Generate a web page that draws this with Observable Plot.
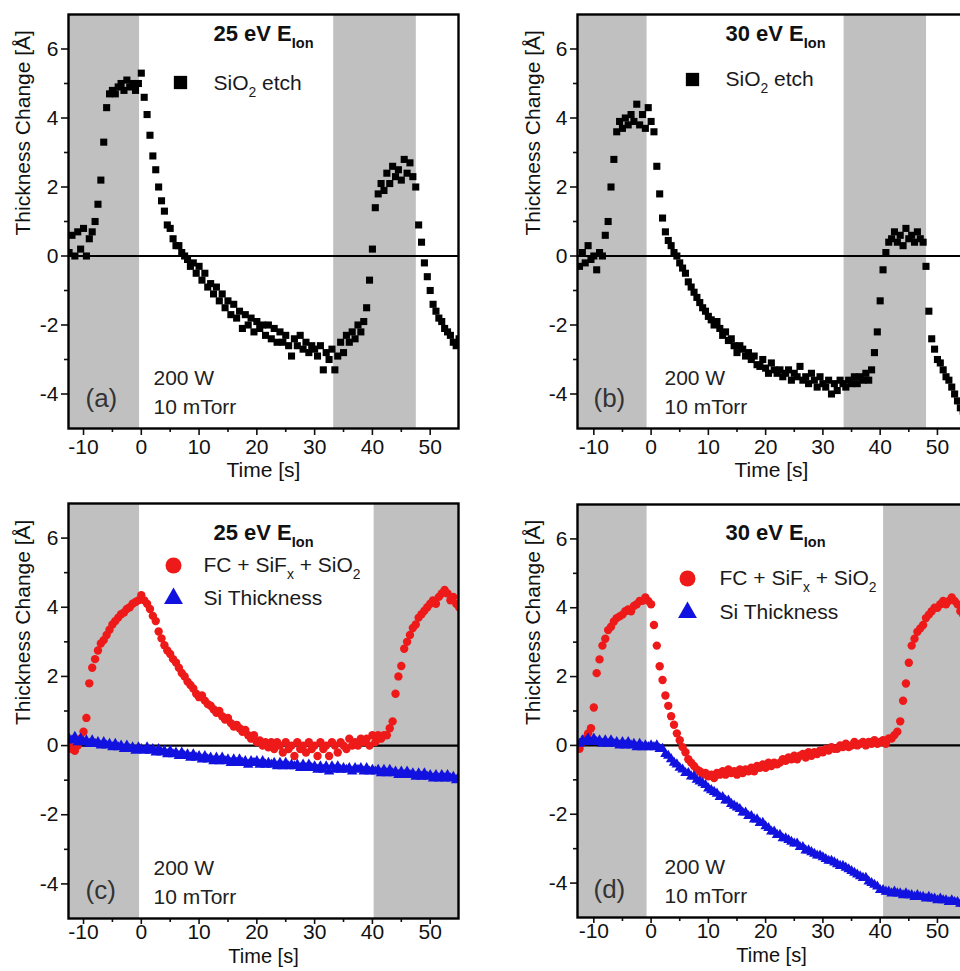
<!DOCTYPE html>
<html><head><meta charset="utf-8">
<script src="https://cdn.jsdelivr.net/npm/d3@7"></script>
<script src="https://cdn.jsdelivr.net/npm/@observablehq/plot@0.6"></script>
<style>
body{margin:0;background:#fff}
#wrap{position:relative;width:960px;height:971px;overflow:hidden;background:#fff}
#wrap svg{position:absolute;overflow:visible;max-width:none}
</style></head><body><div id="wrap"></div>
<script>
// time axis (s), sampled every 0.5 s; rows of 10 values
const time = [
 -12.5,-12,-11.5,-11,-10.5,-10,-9.5,-9,-8.5,-8,
 -7.5,-7,-6.5,-6,-5.5,-5,-4.5,-4,-3.5,-3,
 -2.5,-2,-1.5,-1,-0.5,0,0.5,1,1.5,2,
 2.5,3,3.5,4,4.5,5,5.5,6,6.5,7,
 7.5,8,8.5,9,9.5,10,10.5,11,11.5,12,
 12.5,13,13.5,14,14.5,15,15.5,16,16.5,17,
 17.5,18,18.5,19,19.5,20,20.5,21,21.5,22,
 22.5,23,23.5,24,24.5,25,25.5,26,26.5,27,
 27.5,28,28.5,29,29.5,30,30.5,31,31.5,32,
 32.5,33,33.5,34,34.5,35,35.5,36,36.5,37,
 37.5,38,38.5,39,39.5,40,40.5,41,41.5,42,
 42.5,43,43.5,44,44.5,45,45.5,46,46.5,47,
 47.5,48,48.5,49,49.5,50,50.5,51,51.5,52,
 52.5,53,53.5,54,54.5,55
];
// (a) SiO2 etch, 25 eV
const sio2_25 = [
 0.1,0.6,0.0,0.7,0.2,0.8,0.0,0.5,0.7,1.0,
 1.5,2.2,3.3,4.3,4.7,4.8,4.7,4.9,5.0,4.8,
 5.1,4.9,5.0,4.8,5.0,5.3,4.6,4.1,3.5,2.9,
 2.5,2.0,1.6,1.3,0.9,0.8,0.5,0.3,0.3,0.1,
 0.0,-0.1,-0.3,-0.2,-0.5,-0.3,-0.7,-0.5,-0.9,-0.8,
 -1.1,-0.9,-1.3,-1.1,-1.5,-1.3,-1.7,-1.4,-1.8,-1.6,
 -2.1,-1.7,-2.0,-1.8,-2.2,-1.9,-2.1,-2.0,-2.3,-2.0,
 -2.4,-2.1,-2.5,-2.2,-2.5,-2.3,-2.6,-2.9,-2.4,-2.6,
 -2.3,-2.7,-2.5,-2.8,-2.6,-2.7,-2.9,-2.6,-3.3,-2.8,
 -3.0,-2.7,-3.3,-2.9,-2.5,-2.8,-2.3,-2.5,-2.2,-2.4,
 -2.0,-2.2,-1.9,-1.5,-0.7,0.2,1.4,1.8,2.1,1.9,
 2.4,2.1,2.6,2.3,2.5,2.2,2.8,2.4,2.7,2.3,
 2.0,0.9,0.4,-0.2,-0.6,-1.0,-1.4,-1.6,-1.8,-1.9,
 -2.1,-2.2,-2.3,-2.5,-2.6,-2.4
];
// (b) SiO2 etch, 30 eV
const sio2_30 = [
 -0.3,0.1,-0.2,0.3,-0.1,0.0,-0.4,0.1,0.0,0.6,
 1.0,2.0,2.8,3.6,3.9,3.7,4.0,3.8,4.1,3.9,
 4.4,3.8,4.1,3.7,4.3,3.9,3.6,2.6,1.8,1.1,
 0.7,0.45,0.3,0.1,0.0,-0.2,-0.35,-0.5,-0.75,-0.9,
 -1.05,-1.2,-1.35,-1.5,-1.6,-1.75,-1.85,-2.0,-1.9,-2.1,
 -2.3,-2.2,-2.45,-2.4,-2.6,-2.8,-2.6,-2.7,-2.9,-2.8,
 -3.0,-2.9,-3.15,-3.2,-3.0,-3.25,-3.4,-3.1,-3.3,-3.4,
 -3.3,-3.5,-3.4,-3.3,-3.6,-3.4,-3.5,-3.2,-3.6,-3.5,
 -3.7,-3.4,-3.6,-3.8,-3.5,-3.7,-3.8,-3.6,-4.0,-3.7,
 -3.9,-3.6,-3.7,-3.8,-3.6,-3.7,-3.5,-3.7,-3.5,-3.6,
 -3.4,-3.6,-3.3,-2.8,-2.2,-1.3,-0.4,0.1,0.4,0.5,
 0.7,0.4,0.6,0.3,0.8,0.5,0.6,0.4,0.7,0.5,
 0.4,-0.3,-1.6,-2.4,-2.7,-3.0,-3.1,-3.3,-3.5,-3.6,
 -3.8,-4.0,-4.2,-4.4,-4.5,-4.7
];
// (c) FC + SiFx + SiO2, 25 eV
const fc_25 = [
 0.0,-0.1,-0.15,0.0,0.2,0.4,0.8,1.8,2.25,2.5,
 2.75,2.95,3.05,3.2,3.35,3.5,3.6,3.7,3.8,3.85,
 3.95,4.0,4.1,4.15,4.2,4.35,4.2,4.1,3.95,3.75,
 3.6,3.3,3.1,2.9,2.75,2.65,2.5,2.4,2.25,2.1,
 2.0,1.85,1.75,1.65,1.5,1.4,1.45,1.3,1.2,1.15,
 1.05,0.95,1.0,0.85,0.75,0.8,0.65,0.55,0.6,0.5,
 0.4,0.45,0.3,0.2,0.3,0.1,0.15,0.0,0.1,-0.05,
 0.1,-0.1,0.1,0.0,-0.2,0.1,-0.1,0.0,-0.3,0.1,
 -0.1,0.0,-0.2,0.1,-0.1,0.0,-0.3,0.1,-0.1,0.0,
 -0.3,0.1,0.0,-0.2,0.1,0.0,-0.1,0.2,0.0,0.1,
 0.0,0.2,0.1,0.2,0.0,0.3,0.1,0.3,0.2,0.3,
 0.3,0.5,0.7,1.5,2.0,2.3,2.8,3.0,3.2,3.4,
 3.5,3.7,3.8,3.9,4.0,4.1,4.2,4.1,4.3,4.4,
 4.5,4.4,4.2,4.3,4.1,4.0
];
// (c) Si thickness, 25 eV
const si_25 = [
 0.2,0.15,0.25,0.1,0.2,0.1,0.15,0.05,0.15,0.05,
 0.1,0.0,0.1,0.0,0.05,-0.05,0.05,-0.05,0.0,-0.1,
 0.0,-0.1,-0.05,-0.15,-0.05,-0.1,-0.15,-0.05,-0.15,-0.1,
 -0.2,-0.1,-0.2,-0.15,-0.25,-0.15,-0.25,-0.2,-0.3,-0.2,
 -0.3,-0.25,-0.35,-0.25,-0.35,-0.3,-0.4,-0.3,-0.4,-0.35,
 -0.45,-0.35,-0.45,-0.35,-0.45,-0.4,-0.5,-0.4,-0.5,-0.4,
 -0.5,-0.45,-0.55,-0.45,-0.5,-0.45,-0.55,-0.45,-0.55,-0.5,
 -0.55,-0.5,-0.6,-0.5,-0.6,-0.5,-0.6,-0.55,-0.6,-0.55,
 -0.65,-0.55,-0.65,-0.55,-0.65,-0.6,-0.7,-0.6,-0.7,-0.6,
 -0.75,-0.6,-0.7,-0.6,-0.7,-0.65,-0.7,-0.65,-0.75,-0.65,
 -0.7,-0.65,-0.75,-0.65,-0.75,-0.7,-0.75,-0.7,-0.8,-0.7,
 -0.8,-0.7,-0.8,-0.75,-0.85,-0.75,-0.85,-0.75,-0.85,-0.8,
 -0.9,-0.8,-0.9,-0.8,-0.9,-0.85,-0.95,-0.85,-0.95,-0.85,
 -0.95,-0.85,-0.95,-0.9,-1.0,-0.9
];
// (d) FC + SiFx + SiO2, 30 eV
const fc_30 = [
 -0.1,0.1,0.2,0.35,0.5,1.1,2.1,2.5,2.9,3.1,
 3.35,3.45,3.6,3.7,3.75,3.8,3.9,3.95,3.9,4.05,
 4.1,4.2,4.2,4.3,4.2,4.1,3.5,2.9,2.3,1.9,
 1.45,1.15,0.85,0.6,0.35,0.15,-0.05,-0.2,-0.4,-0.5,
 -0.6,-0.7,-0.75,-0.85,-0.8,-0.9,-0.85,-0.95,-0.8,-0.85,
 -0.75,-0.85,-0.7,-0.8,-0.75,-0.85,-0.7,-0.8,-0.7,-0.75,
 -0.65,-0.75,-0.6,-0.65,-0.55,-0.65,-0.5,-0.6,-0.5,-0.55,
 -0.5,-0.4,-0.45,-0.35,-0.4,-0.3,-0.4,-0.3,-0.25,-0.35,
 -0.2,-0.3,-0.2,-0.25,-0.15,-0.2,-0.1,-0.15,-0.05,-0.1,
 -0.1,0.0,-0.05,0.05,-0.05,0.0,0.1,0.0,0.05,0.1,
 0.0,0.1,0.05,0.15,0.05,0.1,0.15,0.05,0.2,0.2,
 0.3,0.4,0.7,1.3,1.8,2.4,2.9,3.1,3.3,3.4,
 3.5,3.7,3.8,3.9,4.0,4.0,4.1,4.2,4.1,4.2,
 4.3,4.2,4.1,3.9,3.8,3.7
];
// (d) Si thickness, 30 eV
const si_30 = [
 0.05,0.15,0.1,0.2,0.1,0.2,0.1,0.15,0.05,0.15,
 0.05,0.15,0.05,0.1,0.0,0.1,0.0,0.1,0.0,0.05,
 -0.05,0.05,-0.05,0.0,-0.05,0.0,-0.05,0.0,-0.1,-0.1,
 -0.25,-0.3,-0.4,-0.5,-0.55,-0.65,-0.7,-0.8,-0.8,-0.9,
 -0.9,-1.0,-1.05,-1.1,-1.15,-1.25,-1.3,-1.35,-1.4,-1.5,
 -1.5,-1.6,-1.6,-1.7,-1.75,-1.8,-1.85,-1.95,-1.95,-2.05,
 -2.05,-2.15,-2.15,-2.25,-2.25,-2.35,-2.4,-2.5,-2.5,-2.6,
 -2.6,-2.7,-2.7,-2.75,-2.8,-2.85,-2.85,-2.95,-2.95,-3.05,
 -3.05,-3.1,-3.15,-3.2,-3.2,-3.25,-3.3,-3.35,-3.35,-3.4,
 -3.45,-3.5,-3.5,-3.55,-3.6,-3.65,-3.7,-3.75,-3.8,-3.85,
 -3.85,-3.95,-4.0,-4.05,-4.1,-4.2,-4.2,-4.25,-4.25,-4.3,
 -4.25,-4.3,-4.3,-4.35,-4.3,-4.35,-4.35,-4.4,-4.35,-4.4,
 -4.4,-4.45,-4.4,-4.45,-4.45,-4.5,-4.45,-4.5,-4.5,-4.55,
 -4.5,-4.55,-4.55,-4.6,-4.6,-4.65
];
// ticks
const xMajor = [-10, 0, 10, 20, 30, 40, 50];
const xMinor = [-5, 5, 15, 25, 35, 45, 55];
const yMajor = [-4, -2, 0, 2, 4, 6];
const yMinor = [-3, -1, 1, 3, 5];
// plasma-on (gray) intervals [start, end] in s
const bandsA = [[-13, -0.3], [33.3, 47.6]];
const bandsB = [[-13, -0.7], [33.7, 48.1]];
const bandsC = [[-13, -0.3], [40.3, 60]];
const bandsD = [[-13, -0.7], [40.6, 60]];
const yLabel = "Thickness Change [Å]";
const xLabel = "Time [s]";

const FONT = "'Liberation Sans', Arial, Helvetica, sans-serif";
const RED = "#ee1a1a", BLUE = "#1212e0", GRAY = "#c0c0c0";
const series = vals => time.map((t, i) => ({t, v: vals[i]}));

function rich(svg) {
  d3.select(svg).selectAll("text").each(function () {
    const t = this.textContent;
    if (!t.includes("_{")) return;
    const parts = t.split(/(_\{[^}]*\})/).filter(s => s);
    this.textContent = "";
    let shifted = false;
    for (const p of parts) {
      const ts = document.createElementNS("http://www.w3.org/2000/svg", "tspan");
      if (p.startsWith("_{")) {
        ts.textContent = p.slice(2, -1);
        ts.setAttribute("font-size", "66%");
        ts.setAttribute("dy", "0.5em");
        shifted = true;
      } else {
        ts.textContent = p;
        if (shifted) { ts.setAttribute("dy", "-0.33em"); shifted = false; }
      }
      this.appendChild(ts);
    }
  });
}

function panel(p) {
  const marks = [
    Plot.rect(p.bands.map(([a, b]) => ({a, b})), {x1: "a", x2: "b", fill: GRAY, clip: true}),
    Plot.ruleY([0], {stroke: "#000", strokeWidth: 2.2, clip: true})
  ];
  for (const d of p.dots) {
    marks.push(Plot.dot(series(d.values), {x: "t", y: "v", symbol: d.symbol, r: d.r, fill: d.color, clip: true}));
  }
  marks.push(
    Plot.axisX(xMajor, {tickSize: p.xTick, tickPadding: p.xPad, strokeWidth: 1.6, fontSize: 21, tickFormat: d => String(d), label: null}),
    Plot.axisX(xMinor.filter(v => v < p.xDomain[1]), {tickSize: 4, strokeWidth: 1.6, tickFormat: () => "", label: null}),
    Plot.axisY(yMajor, {tickSize: 7, tickPadding: 3, strokeWidth: 1.6, fontSize: 21, tickFormat: d => String(d), label: null}),
    Plot.axisY(yMinor, {tickSize: 4, strokeWidth: 1.6, tickFormat: () => "", label: null}),
    Plot.frame({stroke: "#000", strokeWidth: 2.4}),
    Plot.text([yLabel], {text: d => d, frameAnchor: "left", dx: p.ylabDx, dy: 14, rotate: -90, fontSize: 21}),
    Plot.text([xLabel], {text: d => d, frameAnchor: "bottom", dy: p.xlabDy, fontSize: p.xlabSize}),
    Plot.text([p.title], {text: d => d, frameAnchor: "top-left", dx: p.titlePos[0], dy: p.titlePos[1], textAnchor: "start", lineAnchor: "middle", fontWeight: "bold", fontSize: 22})
  );
  for (const l of p.legend) {
    marks.push(
      Plot.dot([l.label], {frameAnchor: "top-left", dx: l.m[0], dy: l.m[1], symbol: l.symbol, r: l.r, fill: l.color}),
      Plot.text([l.label], {text: d => d, frameAnchor: "top-left", dx: l.t[0], dy: l.t[1], textAnchor: "start", lineAnchor: "middle", fontSize: 21, fill: "#1a1a1a"})
    );
  }
  marks.push(
    Plot.text(["200 W"], {text: d => d, frameAnchor: "bottom-left", dx: p.annoDx, dy: -50, textAnchor: "start", lineAnchor: "middle", fontSize: 21, fill: "#222"}),
    Plot.text(["10 mTorr"], {text: d => d, frameAnchor: "bottom-left", dx: p.annoDx, dy: -21, textAnchor: "start", lineAnchor: "middle", fontSize: 21, fill: "#222"}),
    Plot.text([p.tag], {text: d => d, frameAnchor: "bottom-left", dx: p.tagDx, dy: p.tagDy, textAnchor: "start", lineAnchor: "middle", fontSize: 26, fill: "#333"})
  );
  const svg = Plot.plot({
    width: p.width, height: p.height,
    marginTop: p.margin[0], marginRight: p.margin[1], marginBottom: p.margin[2], marginLeft: p.margin[3],
    x: {domain: p.xDomain, label: null},
    y: {domain: [-5, 7], label: null},
    style: {fontFamily: FONT, fontSize: "21px", color: "#111", background: "transparent", overflow: "visible"},
    marks
  });
  rich(svg);
  svg.style.left = p.left + "px";
  svg.style.top = p.top + "px";
  document.getElementById("wrap").appendChild(svg);
}

const sq = {symbol: "square", r: 4.0, color: "#000"};
const redDot = {symbol: "circle", r: 4.2, color: RED};
const blueTri = {symbol: "triangle", r: 3.9, color: BLUE};
panel({left: 0, top: 0, width: 480, height: 485, margin: [14, 22, 57, 68], xDomain: [-12.6, 54.9],
  bands: bandsA, dots: [{...sq, values: sio2_25}], ylabDx: -45, xTick: 7, xPad: 4, xlabDy: 48, xlabSize: 21,
  title: "25 eV E_{Ion}", titlePos: [145, 19],
  legend: [{label: "SiO_{2} etch", symbol: "square", r: 7.5, color: "#000", m: [112, 68], t: [145, 69]}],
  annoDx: 85, tag: "(a)", tagDx: 17, tagDy: -30});
panel({left: 480, top: 0, width: 510, height: 485, margin: [14, 25, 57, 97], xDomain: [-12.85, 54.9],
  bands: bandsB, dots: [{...sq, values: sio2_30}], ylabDx: -44, xTick: 7, xPad: 4, xlabDy: 48, xlabSize: 21,
  title: "30 eV E_{Ion}", titlePos: [148, 19],
  legend: [{label: "SiO_{2} etch", symbol: "square", r: 7.5, color: "#000", m: [115, 65], t: [148, 65]}],
  annoDx: 87, tag: "(b)", tagDx: 16, tagDy: -30});
panel({left: 0, top: 485, width: 480, height: 486, margin: [18, 22, 53, 68], xDomain: [-12.6, 54.9],
  bands: bandsC, dots: [{...redDot, values: fc_25}, {...blueTri, values: si_25}], ylabDx: -45, xTick: 6, xPad: 0, xlabDy: 44, xlabSize: 20,
  title: "25 eV E_{Ion}", titlePos: [145, 29],
  legend: [{label: "FC + SiF_{x} + SiO_{2}", symbol: "circle", r: 8, color: RED, m: [105, 62], t: [135, 62]},
           {label: "Si Thickness", symbol: "triangle", r: 7, color: BLUE, m: [105, 95], t: [135, 95]}],
  annoDx: 85, tag: "(c)", tagDx: 17, tagDy: -28});
panel({left: 480, top: 485, width: 510, height: 486, margin: [19, 25, 54, 97], xDomain: [-12.85, 54.9],
  bands: bandsD, dots: [{...redDot, values: fc_30}, {...blueTri, values: si_30}], ylabDx: -44, xTick: 6, xPad: 0, xlabDy: 44, xlabSize: 20,
  title: "30 eV E_{Ion}", titlePos: [148, 28],
  legend: [{label: "FC + SiF_{x} + SiO_{2}", symbol: "circle", r: 8, color: RED, m: [110, 74], t: [142, 74]},
           {label: "Si Thickness", symbol: "triangle", r: 7, color: BLUE, m: [110, 108], t: [142, 108]}],
  annoDx: 87, tag: "(d)", tagDx: 16, tagDy: -28});
</script></body></html>
